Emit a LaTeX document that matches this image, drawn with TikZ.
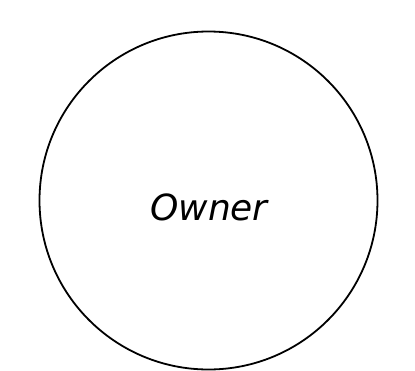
\documentclass[tikz,border=0pt]{standalone}
\usepackage{fontspec}
\setmainfont{DejaVu Sans}
\begin{document}
\begin{tikzpicture}[x=1pt,y=-1pt,
  owner/.style={circle,draw=black,line width=1.8pt,minimum size=338pt,inner sep=0pt},
  lbl/.style={font=\fontsize{36}{40}\selectfont\itshape,inner sep=0pt}]
\useasboundingbox (0,0) rectangle (415,370);
\node[owner] (c) at (208.5,200.5) {};
\node[lbl] (t) at (209,207) {Owner};
\end{tikzpicture}
\end{document}
